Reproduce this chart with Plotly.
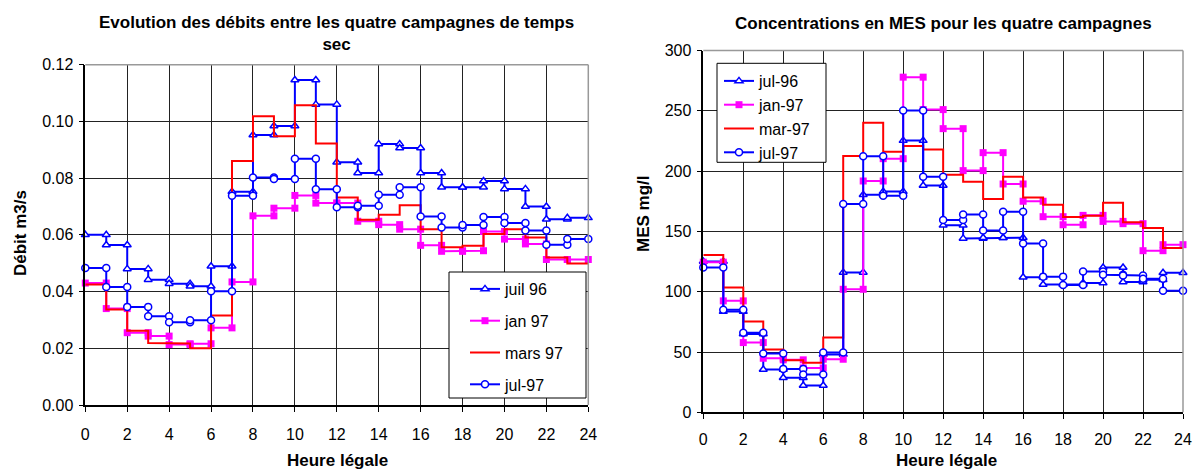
import plotly.graph_objects as go

# hourly values (hour h -> h+1)
hours = list(range(25))

# left chart: débits (m3/s)
q_juil96 = [0.060, 0.0564, 0.048, 0.0442, 0.0428, 0.0419, 0.0489, 0.0752, 0.0952, 0.0984,
            0.1146, 0.106, 0.0856, 0.0818, 0.092, 0.0906, 0.0818, 0.0768, 0.0768, 0.079,
            0.0762, 0.070, 0.0655, 0.066]
q_jan97 = [0.043, 0.034, 0.0255, 0.0243, 0.0213, 0.0216, 0.0272, 0.0434, 0.0667, 0.0694,
           0.0739, 0.0712, 0.0712, 0.0648, 0.0636, 0.062, 0.0563, 0.0542, 0.0544, 0.0612,
           0.0585, 0.0568, 0.0513, 0.0513]
q_mars97 = [0.0425, 0.0337, 0.0262, 0.0219, 0.0217, 0.0200, 0.0316, 0.086, 0.1018, 0.0948,
            0.1057, 0.0922, 0.0732, 0.0653, 0.0671, 0.0704, 0.062, 0.0556, 0.0562, 0.0603,
            0.062, 0.0591, 0.052, 0.0499]
q_jul97 = [0.0483, 0.0416, 0.0346, 0.0313, 0.0292, 0.0299, 0.0401, 0.0738, 0.0802, 0.0797,
           0.0868, 0.0761, 0.0697, 0.0703, 0.0741, 0.0768, 0.0665, 0.0626, 0.0635, 0.0663,
           0.0642, 0.0615, 0.0565, 0.0585]

# right chart: MES (mg/l)
m_jul96 = [125, 83.5, 65, 35.5, 28.7, 22.2, 48, 116, 180.4, 183, 225.3, 188, 155, 144.2,
           144.7, 144.7, 112, 106, 106, 107.2, 120, 108, 110, 115.7]
m_jan97 = [124.5, 92.4, 57.8, 44.8, 43.5, 36.8, 44, 102, 191.8, 210.3, 277.9, 251, 235.2,
           200.4, 215.3, 189.3, 175, 162.2, 155.5, 163.3, 158.3, 156.4, 134, 139]
m_mar97 = [130.4, 103.5, 75.3, 52, 43.2, 41, 62, 212.5, 240, 216, 220.8, 218, 197, 191.2,
           176.8, 195.4, 178.2, 172.1, 162, 163, 173.8, 157.5, 152.8, 136.2]
m_jul97 = [120.1, 85, 65.9, 48.7, 36, 31.3, 49.5, 172.7, 212.3, 179.6, 250.2, 195.4, 159.4,
           164.1, 150.8, 166.3, 140, 112.5, 105.5, 116.8, 114, 113.5, 110.8, 100.8]

left_names = ["juil 96", "jan 97", "mars 97", "jul-97"]
right_names = ["jul-96", "jan-97", "mar-97", "jul-97"]

styles = [
    dict(color="#0000FF", mode="lines+markers",
         marker=dict(symbol="triangle-up", size=7, color="white", line=dict(color="#0000FF", width=1.5))),
    dict(color="#FF00FF", mode="lines+markers",
         marker=dict(symbol="square", size=7, color="#FF00FF", line=dict(width=0))),
    dict(color="#FF0000", mode="lines", marker=None),
    dict(color="#0000FF", mode="lines+markers",
         marker=dict(symbol="circle", size=7, color="white", line=dict(color="#0000FF", width=1.5))),
]


def steps(vals):
    xs, ys = [], []
    for h, v in enumerate(vals):
        xs += [hours[h], hours[h + 1]]
        ys += [v, v]
    return xs, ys


fig = go.Figure()

for name, vals, st in zip(left_names, [q_juil96, q_jan97, q_mars97, q_jul97], styles):
    xs, ys = steps(vals)
    tr = go.Scatter(x=xs, y=ys, name=name, mode=st["mode"], line=dict(color=st["color"], width=2),
                    xaxis="x", yaxis="y", legend="legend", legendgroup="L" + name, cliponaxis=False)
    if st["marker"]:
        tr.marker = st["marker"]
    fig.add_trace(tr)

for name, vals, st in zip(right_names, [m_jul96, m_jan97, m_mar97, m_jul97], styles):
    xs, ys = steps(vals)
    tr = go.Scatter(x=xs, y=ys, name=name, mode=st["mode"], line=dict(color=st["color"], width=2),
                    xaxis="x2", yaxis="y2", legend="legend2", legendgroup="R" + name, cliponaxis=False)
    if st["marker"]:
        tr.marker = st["marker"]
    fig.add_trace(tr)

W, H = 1202, 469
OFF = 8  # page body margin
font = dict(family="Liberation Sans, Arial, sans-serif", size=16, color="black")


def px(x):
    return (x - OFF) / W


def py(y):
    return 1 - (y - OFF) / H


def xax(dom, anchor, standoff):
    return dict(domain=dom, anchor=anchor, range=[0, 24], dtick=2, tick0=0,
                showgrid=True, gridcolor="#222", gridwidth=1,
                showline=True, linecolor="black", linewidth=1.5, mirror=False,
                ticks="outside", ticklen=5, tickcolor="black", ticklabelstandoff=standoff,
                zeroline=False, tickfont=font, automargin=False)


def yax(dom, anchor, rng, dt, fmt):
    return dict(domain=dom, anchor=anchor, range=rng, dtick=dt, tick0=0, tickformat=fmt,
                showgrid=True, gridcolor="#222", gridwidth=1,
                showline=True, linecolor="black", linewidth=1.5, mirror=False,
                ticks="outside", ticklen=5, tickcolor="black", ticklabelstandoff=2,
                zeroline=False, tickfont=font, automargin=False)


lx = [px(85.3), px(588.3)]
ly = [py(405), py(64.7)]
rx = [px(703.3), px(1183)]
ry = [py(412.3), py(50.5)]


def frame(x0, x1, y0, y1):
    return [
        dict(type="line", xref="paper", yref="paper", x0=x0, x1=x1, y0=y1, y1=y1, line=dict(color="#999", width=1.5)),
        dict(type="line", xref="paper", yref="paper", x0=x1, x1=x1, y0=y0, y1=y1, line=dict(color="#999", width=1.5)),
    ]


def legend_box(x0, x1, y0, y1):
    return dict(type="rect", xref="paper", yref="paper", layer="above",
                x0=px(x0), x1=px(x1), y0=py(y1), y1=py(y0),
                fillcolor="white", line=dict(color="black", width=1))


def ann(text, x, y, size=17, angle=0):
    return dict(text=text, x=px(x), y=py(y), xref="paper", yref="paper",
                xanchor="center", yanchor="middle", showarrow=False,
                font=dict(size=size), align="center", textangle=angle)


fig.update_layout(
    width=W, height=H, margin=dict(l=0, r=0, t=0, b=0, autoexpand=False),
    paper_bgcolor="white", plot_bgcolor="white", font=font,
    xaxis=xax(lx, "y", 9), yaxis=yax(ly, "x", [0, 0.12], 0.02, ".2f"),
    xaxis2=xax(rx, "y2", 7), yaxis2=yax(ry, "x2", [0, 300], 50, "d"),
    legend=dict(x=px(465), y=py(288 - 16), xanchor="left", yanchor="top",
                borderwidth=0, bgcolor="rgba(0,0,0,0)",
                font=dict(size=16), tracegroupgap=8, itemwidth=30),
    legend2=dict(x=px(719), y=py(80 - 16), xanchor="left", yanchor="top",
                 borderwidth=0, bgcolor="rgba(0,0,0,0)",
                 font=dict(size=16), tracegroupgap=0, itemwidth=30),
    shapes=frame(lx[0], lx[1], ly[0], ly[1]) + frame(rx[0], rx[1], ry[0], ry[1]) + [
        legend_box(449, 586, 272, 398),
        legend_box(717, 826, 63.3, 162.3),
    ],
    annotations=[
        ann("<b>Evolution des débits entre les quatre campagnes de temps<br>sec</b>", 336.8, 33),
        ann("<b>Concentrations en MES pour les quatre campagnes</b>", 943, 24),
        ann("<b>Heure légale</b>", 337, 460),
        ann("<b>Heure légale</b>", 946, 460),
        ann("<b>Débit m3/s</b>", 20, 233, angle=-90),
        ann("<b>MES mg/l</b>", 644, 214, angle=-90),
    ],
)

fig.write_html("out.html")
